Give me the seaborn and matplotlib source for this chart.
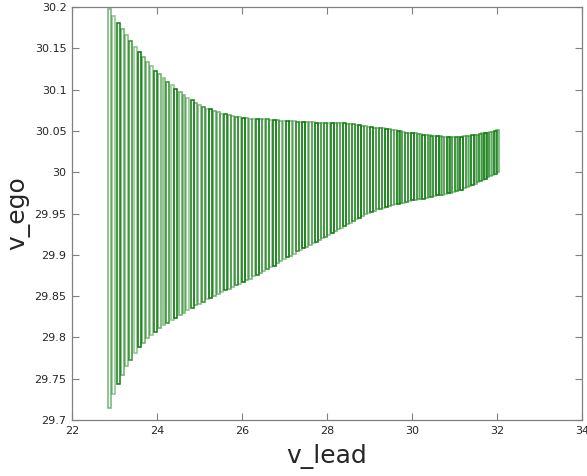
import matplotlib.pyplot as plt
import pandas as pd
import seaborn as sns

# left edge of each reach box along v_lead
v_lead = [
    22.85, 22.95, 23.05, 23.15, 23.25, 23.35, 23.45, 23.55, 23.64, 23.74,
    23.84, 23.94, 24.03, 24.13, 24.22, 24.32, 24.41, 24.51, 24.60, 24.69,
    24.79, 24.88, 24.97,
    25.06, 25.15, 25.23, 25.32, 25.41, 25.49, 25.58, 25.66, 25.75, 25.83,
    25.91, 26.00, 26.08, 26.16, 26.24, 26.32, 26.40, 26.48, 26.56, 26.64,
    26.72, 26.80, 26.88, 26.96,
    27.04, 27.11, 27.19, 27.27, 27.34, 27.42, 27.49, 27.57, 27.64, 27.72,
    27.79, 27.87, 27.94, 28.01, 28.09, 28.16, 28.23, 28.31, 28.38, 28.45,
    28.52, 28.59, 28.66, 28.73, 28.80, 28.87, 28.94,
    29.01, 29.08, 29.15, 29.22, 29.29, 29.36, 29.43, 29.50, 29.57, 29.64,
    29.70, 29.77, 29.84, 29.91, 29.97, 30.04, 30.11, 30.17, 30.24, 30.30,
    30.37, 30.43, 30.50, 30.56, 30.63, 30.69, 30.76, 30.82, 30.88, 30.95,
    31.01, 31.07, 31.14, 31.20, 31.26, 31.32, 31.39, 31.45, 31.51, 31.57,
    31.63, 31.69, 31.75, 31.81, 31.87, 31.93, 31.98,
]

v_ego_hi = [
    30.197, 30.189, 30.181, 30.173, 30.166, 30.159, 30.152, 30.146, 30.140, 30.134,
    30.129, 30.123, 30.119, 30.114, 30.109, 30.105, 30.101, 30.097, 30.094, 30.090,
    30.087, 30.084, 30.081,
    30.079, 30.077, 30.076, 30.074, 30.073, 30.071, 30.070, 30.069, 30.068, 30.067,
    30.067, 30.066, 30.066, 30.065, 30.065, 30.065, 30.064, 30.064, 30.064, 30.063,
    30.063, 30.063, 30.062, 30.062,
    30.062, 30.062, 30.062, 30.061, 30.061, 30.061, 30.061, 30.061, 30.061, 30.060,
    30.060, 30.060, 30.060, 30.060, 30.060, 30.059, 30.059, 30.059, 30.059, 30.058,
    30.058, 30.058, 30.057, 30.057, 30.056, 30.056, 30.055,
    30.055, 30.054, 30.054, 30.053, 30.053, 30.052, 30.052, 30.051, 30.051, 30.050,
    30.050, 30.049, 30.048, 30.048, 30.047, 30.047, 30.046, 30.046, 30.045, 30.045,
    30.045, 30.044, 30.044, 30.044, 30.044, 30.043, 30.043, 30.043, 30.043, 30.043,
    30.043, 30.043, 30.043, 30.044, 30.044, 30.044, 30.045, 30.045, 30.045, 30.046,
    30.047, 30.047, 30.048, 30.049, 30.049, 30.050, 30.051,
]

v_ego_lo = [
    29.715, 29.731, 29.744, 29.755, 29.765, 29.773, 29.781, 29.788, 29.793, 29.799,
    29.803, 29.807, 29.811, 29.815, 29.818, 29.821, 29.824, 29.827, 29.830, 29.833,
    29.836, 29.839, 29.841,
    29.843, 29.846, 29.848, 29.850, 29.853, 29.855, 29.857, 29.859, 29.861, 29.863,
    29.865, 29.867, 29.869, 29.871, 29.874, 29.876, 29.878, 29.880, 29.883, 29.885,
    29.887, 29.890, 29.892, 29.895,
    29.897, 29.899, 29.901, 29.904, 29.906, 29.908, 29.910, 29.912, 29.914, 29.916,
    29.918, 29.920, 29.922, 29.924, 29.926, 29.929, 29.931, 29.933, 29.935, 29.937,
    29.939, 29.941, 29.943, 29.945, 29.947, 29.949, 29.951,
    29.952, 29.953, 29.955, 29.956, 29.957, 29.958, 29.959, 29.960, 29.961, 29.962,
    29.963, 29.963, 29.964, 29.965, 29.966, 29.966, 29.967, 29.968, 29.968, 29.969,
    29.970, 29.970, 29.971, 29.972, 29.972, 29.973, 29.974, 29.975, 29.975, 29.976,
    29.977, 29.978, 29.979, 29.981, 29.982, 29.983, 29.985, 29.986, 29.988, 29.989,
    29.991, 29.992, 29.994, 29.995, 29.997, 29.998, 30.000,
]

box_width = 0.07

df = pd.DataFrame({"v_lead": v_lead, "lo": v_ego_lo, "hi": v_ego_hi})
df["span"] = df["hi"] - df["lo"]

sns.set_theme(style="white")
plt.rcParams["font.family"] = ["DejaVu Sans"]

fig = plt.figure(figsize=(5.87, 4.76), dpi=100)
ax = fig.add_axes([72 / 587, 56 / 476, 510 / 587, 413 / 476])

# edge shade varies from box to box, like the overlapping sets in the original
alphas = [0.55, 0.45, 0.95, 0.6, 0.5, 0.8, 0.45, 1.0, 0.6]
for i, row in df.iterrows():
    ax.bar(
        row["v_lead"],
        row["span"],
        bottom=row["lo"],
        width=box_width,
        align="edge",
        fill=False,
        edgecolor="#0a7a0a",
        linewidth=1.15,
        alpha=alphas[i % len(alphas)],
    )

ax.set_xlim(22, 34)
ax.set_ylim(29.7, 30.2)
ax.set_xticks([22, 24, 26, 28, 30, 32, 34])
ax.set_yticks([29.7, 29.75, 29.8, 29.85, 29.9, 29.95, 30, 30.05, 30.1, 30.15, 30.2])
ax.set_yticklabels(["29.7", "29.75", "29.8", "29.85", "29.9", "29.95", "30",
                    "30.05", "30.1", "30.15", "30.2"])
ax.tick_params(direction="in", length=5, width=0.8, color="#808080",
               labelsize=8, labelcolor="#262626", top=True, right=True,
               bottom=True, left=True, pad=4)
for spine in ax.spines.values():
    spine.set_color("#808080")
    spine.set_linewidth(0.9)

ax.set_xlabel("v_lead", fontsize=18, color="#262626", labelpad=6)
ax.set_ylabel("v_ego", fontsize=18, color="#262626", labelpad=3)

fig.savefig("out.png", dpi=100)
